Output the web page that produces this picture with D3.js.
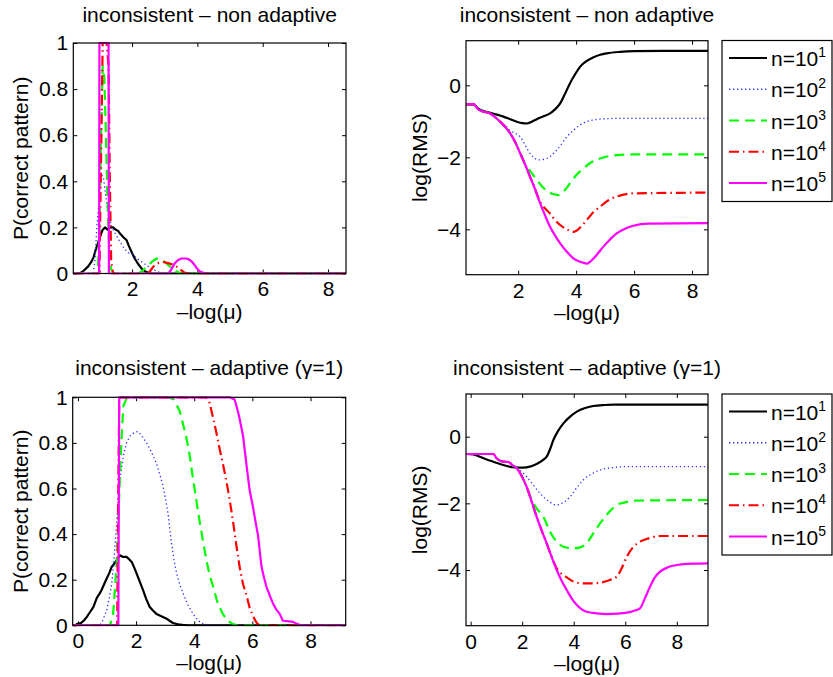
<!DOCTYPE html>
<html>
<head>
<meta charset="utf-8">
<script src="https://cdnjs.cloudflare.com/ajax/libs/d3/7.8.5/d3.min.js"></script>
<style>
  body { margin: 0; background: #fff; }
  svg text { font-family: "Liberation Sans", Arial, Helvetica, sans-serif; fill: #000; }
</style>
</head>
<body>
<svg id="chart" width="833" height="677"></svg>
<script>
// legend / series names
const seriesNames = ["1", "2", "3", "4", "5"];   // exponents for n=10^k

// top-left: inconsistent - non adaptive, P(correct pattern)
const pNonN1 = [[0.2,0],[0.4,0],[0.5,0.01],[0.65,0.03],[0.75,0.05],[0.82,0.07],[0.88,0.1],[0.95,0.13],[1.02,0.16],[1.1,0.19],[1.17,0.2],[1.25,0.19],[1.32,0.2],[1.42,0.2],[1.5,0.19],[1.57,0.185],[1.65,0.17],[1.75,0.155],[1.83,0.145],[1.9,0.12],[1.98,0.095],[2.08,0.065],[2.19,0.04],[2.3,0.02],[2.39,0.01],[2.5,0.003],[2.6,0],[8.55,0]];
const pNonN2 = [[0.2,0],[0.8,0],[0.86,0.05],[0.92,0.2],[0.98,0.3],[1.05,0.43],[1.12,0.42],[1.2,0.33],[1.28,0.25],[1.38,0.2],[1.5,0.17],[1.62,0.14],[1.75,0.11],[1.88,0.09],[2.0,0.085],[2.15,0.065],[2.3,0.05],[2.45,0.035],[2.6,0.02],[2.75,0.01],[2.9,0],[8.55,0]];
const pNonN3 = [[0.2,0],[0.95,0],[1.0,0.2],[1.05,0.6],[1.1,0.9],[1.15,0.85],[1.2,0.6],[1.25,0.3],[1.3,0.1],[1.35,0.02],[1.45,0],[2.2,0],[2.3,0.01],[2.45,0.03],[2.6,0.05],[2.75,0.065],[2.9,0.06],[3.05,0.045],[3.2,0.025],[3.35,0.01],[3.5,0],[8.55,0]];
const pNonN4 = [[0.2,0],[1.0,0],[1.05,0.5],[1.1,1],[1.22,1],[1.28,0.9],[1.32,0.4],[1.36,0.05],[1.42,0],[2.5,0],[2.65,0.03],[2.8,0.045],[2.95,0.05],[3.1,0.045],[3.3,0.037],[3.45,0.02],[3.6,0.004],[3.75,0],[8.55,0]];
const pNonN5 = [[0.2,0],[0.99,0],[1.0,1],[1.28,1],[1.29,0],[3.1,0],[3.16,0.008],[3.31,0.045],[3.42,0.06],[3.52,0.065],[3.62,0.065],[3.72,0.063],[3.8,0.055],[3.87,0.045],[3.97,0.025],[4.08,0.008],[4.25,0],[8.55,0]];

// top-right: inconsistent - non adaptive, log(RMS)
const rNonN1 = [[0.2,-0.53],[0.46,-0.53],[0.6,-0.63],[0.75,-0.7],[1.03,-0.76],[1.25,-0.81],[1.49,-0.87],[1.72,-0.94],[1.95,-1.01],[2.15,-1.05],[2.3,-1.06],[2.47,-1.01],[2.64,-0.94],[2.87,-0.86],[3.1,-0.78],[3.28,-0.66],[3.45,-0.5],[3.62,-0.23],[3.79,0.06],[3.96,0.3],[4.14,0.52],[4.37,0.68],[4.6,0.78],[4.83,0.85],[5.06,0.89],[5.52,0.93],[6.0,0.95],[7.0,0.96],[8.55,0.96]];
const rNonN2 = [[0.2,-0.52],[0.46,-0.52],[0.6,-0.65],[0.75,-0.72],[1.03,-0.78],[1.2,-0.88],[1.38,-1.0],[1.55,-1.12],[1.72,-1.25],[2.07,-1.43],[2.41,-1.89],[2.7,-2.07],[2.99,-2.03],[3.33,-1.8],[3.68,-1.43],[3.9,-1.25],[4.14,-1.1],[4.6,-0.96],[5.29,-0.92],[8.55,-0.92]];
const rNonN3 = [[0.2,-0.52],[0.46,-0.52],[0.6,-0.65],[0.75,-0.72],[1.03,-0.78],[1.2,-0.88],[1.38,-1.01],[1.55,-1.15],[1.72,-1.33],[1.9,-1.58],[2.07,-1.89],[2.25,-2.2],[2.45,-2.42],[2.64,-2.62],[2.82,-2.8],[2.99,-2.93],[3.2,-3.02],[3.39,-3.05],[3.6,-2.92],[3.79,-2.72],[4.0,-2.5],[4.25,-2.31],[4.5,-2.15],[4.83,-2.03],[5.4,-1.94],[6.0,-1.92],[8.55,-1.92]];
const rNonN4 = [[0.2,-0.52],[0.46,-0.52],[0.6,-0.65],[0.75,-0.72],[1.03,-0.78],[1.2,-0.88],[1.38,-1.01],[1.55,-1.15],[1.72,-1.33],[1.9,-1.58],[2.07,-1.89],[2.24,-2.2],[2.41,-2.54],[2.59,-2.9],[2.76,-3.24],[2.93,-3.42],[3.1,-3.56],[3.28,-3.75],[3.45,-3.88],[3.68,-4.0],[3.91,-4.07],[4.14,-3.95],[4.37,-3.74],[4.6,-3.52],[4.83,-3.37],[5.1,-3.2],[5.4,-3.09],[6.0,-3.0],[8.55,-2.98]];
const rNonN5 = [[0.2,-0.52],[0.46,-0.52],[0.6,-0.65],[0.75,-0.72],[1.03,-0.78],[1.2,-0.88],[1.38,-1.01],[1.55,-1.15],[1.72,-1.33],[1.9,-1.58],[2.07,-1.89],[2.24,-2.2],[2.41,-2.54],[2.59,-2.9],[2.76,-3.28],[2.93,-3.62],[3.1,-3.93],[3.28,-4.18],[3.45,-4.39],[3.68,-4.62],[3.91,-4.81],[4.14,-4.9],[4.37,-4.95],[4.6,-4.81],[4.77,-4.65],[4.94,-4.48],[5.17,-4.28],[5.4,-4.11],[5.7,-3.98],[5.97,-3.9],[6.5,-3.84],[8.55,-3.83]];

// bottom-left: inconsistent - adaptive (gamma=1), P(correct pattern)
const pAdaN1 = [[-0.18,0],[-0.1,0],[-0.04,0.005],[0.1,0.01],[0.2,0.02],[0.3,0.036],[0.4,0.055],[0.53,0.08],[0.65,0.12],[0.75,0.14],[0.81,0.154],[0.9,0.18],[0.99,0.205],[1.08,0.23],[1.16,0.256],[1.25,0.27],[1.33,0.285],[1.44,0.307],[1.55,0.3],[1.67,0.3],[1.76,0.29],[1.85,0.278],[1.93,0.255],[2.02,0.227],[2.13,0.19],[2.24,0.154],[2.35,0.115],[2.47,0.08],[2.58,0.065],[2.7,0.05],[2.87,0.04],[3.05,0.029],[3.15,0.02],[3.27,0.01],[3.45,0.004],[3.6,0.002],[3.8,0],[9.21,0]];
const pAdaN2 = [[-0.18,0],[0.76,0],[0.85,0.02],[0.99,0.066],[1.08,0.12],[1.16,0.18],[1.22,0.26],[1.27,0.34],[1.33,0.45],[1.39,0.56],[1.47,0.66],[1.56,0.74],[1.67,0.8],[1.79,0.83],[1.93,0.845],[2.07,0.85],[2.2,0.83],[2.36,0.8],[2.53,0.76],[2.7,0.71],[2.82,0.66],[2.93,0.61],[3.02,0.55],[3.1,0.49],[3.16,0.42],[3.22,0.36],[3.3,0.29],[3.39,0.23],[3.5,0.18],[3.62,0.14],[3.78,0.09],[3.96,0.05],[4.13,0.02],[4.3,0.007],[4.45,0],[9.21,0]];
const pAdaN3 = [[-0.18,0],[1.1,0],[1.21,0.05],[1.27,0.15],[1.33,0.27],[1.39,0.45],[1.44,0.64],[1.5,0.82],[1.56,0.96],[1.67,0.995],[1.8,1],[3.1,1],[3.3,0.99],[3.5,0.94],[3.72,0.83],[3.85,0.74],[3.95,0.65],[4.07,0.55],[4.18,0.46],[4.3,0.37],[4.42,0.285],[4.53,0.22],[4.65,0.17],[4.8,0.1],[4.98,0.05],[5.15,0.02],[5.3,0.007],[5.5,0],[9.21,0]];
const pAdaN4 = [[-0.18,0],[1.35,0],[1.38,0.5],[1.42,1],[4.4,1],[4.5,0.99],[4.65,0.91],[4.77,0.84],[4.88,0.77],[5.0,0.7],[5.11,0.63],[5.22,0.55],[5.34,0.45],[5.45,0.35],[5.57,0.25],[5.68,0.18],[5.8,0.13],[5.9,0.08],[6.02,0.04],[6.16,0.008],[6.25,0],[9.21,0]];
const pAdaN5 = [[-0.18,0],[1.39,0],[1.42,1],[5.22,1],[5.39,0.99],[5.5,0.94],[5.57,0.9],[5.68,0.83],[5.8,0.7],[5.91,0.59],[6.02,0.52],[6.1,0.46],[6.2,0.39],[6.31,0.26],[6.4,0.21],[6.48,0.17],[6.6,0.13],[6.71,0.095],[6.82,0.07],[6.94,0.05],[7.05,0.02],[7.2,0.018],[7.4,0.015],[7.5,0.008],[7.63,0.002],[7.8,0],[9.21,0]];

// bottom-right: inconsistent - adaptive (gamma=1), log(RMS)
const rAdaN1 = [[-0.18,-0.52],[0.1,-0.53],[0.36,-0.6],[0.6,-0.68],[0.88,-0.75],[1.14,-0.82],[1.4,-0.88],[1.7,-0.92],[2.04,-0.93],[2.3,-0.9],[2.56,-0.82],[2.8,-0.7],[2.95,-0.6],[3.08,-0.38],[3.21,-0.1],[3.4,0.18],[3.6,0.4],[3.86,0.6],[4.12,0.75],[4.44,0.86],[4.76,0.92],[5.2,0.95],[5.54,0.96],[9.21,0.96]];
const rAdaN2 = [[-0.18,-0.52],[0.88,-0.52],[1.01,-0.65],[1.14,-0.72],[1.27,-0.75],[1.46,-0.76],[1.62,-0.85],[1.79,-0.95],[1.98,-1.05],[2.17,-1.2],[2.43,-1.45],[2.69,-1.7],[3.0,-1.92],[3.34,-2.05],[3.6,-1.97],[3.86,-1.8],[4.1,-1.55],[4.37,-1.3],[4.7,-1.12],[5.02,-1.0],[5.5,-0.93],[6.06,-0.9],[9.21,-0.9]];
const rAdaN3 = [[-0.18,-0.52],[0.88,-0.52],[1.01,-0.65],[1.14,-0.72],[1.27,-0.75],[1.46,-0.76],[1.62,-0.85],[1.79,-0.95],[1.98,-1.18],[2.17,-1.5],[2.37,-1.9],[2.56,-2.15],[2.82,-2.4],[3.08,-2.85],[3.34,-3.15],[3.6,-3.3],[3.98,-3.35],[4.25,-3.32],[4.5,-3.2],[4.76,-2.9],[5.02,-2.6],[5.35,-2.28],[5.67,-2.05],[6.0,-1.97],[6.31,-1.92],[9.21,-1.9]];
const rAdaN4 = [[-0.18,-0.52],[0.88,-0.52],[1.01,-0.65],[1.14,-0.72],[1.27,-0.75],[1.46,-0.76],[1.62,-0.85],[1.79,-0.95],[1.98,-1.18],[2.17,-1.5],[2.37,-1.95],[2.56,-2.4],[2.75,-2.8],[2.95,-3.2],[3.14,-3.6],[3.34,-3.95],[3.53,-4.12],[3.73,-4.22],[4.0,-4.35],[4.37,-4.4],[4.7,-4.4],[5.02,-4.38],[5.4,-4.3],[5.67,-4.2],[5.86,-3.95],[6.06,-3.6],[6.3,-3.32],[6.57,-3.15],[6.9,-3.05],[7.35,-2.98],[9.21,-2.98]];
const rAdaN5 = [[-0.18,-0.52],[0.88,-0.52],[1.01,-0.65],[1.14,-0.72],[1.27,-0.75],[1.46,-0.76],[1.62,-0.85],[1.79,-0.95],[1.98,-1.18],[2.17,-1.5],[2.37,-1.95],[2.56,-2.4],[2.75,-2.8],[2.95,-3.2],[3.14,-3.6],[3.34,-4.0],[3.53,-4.32],[3.73,-4.6],[3.92,-4.85],[4.12,-5.05],[4.3,-5.17],[4.5,-5.25],[4.9,-5.3],[5.28,-5.32],[5.7,-5.31],[6.06,-5.28],[6.35,-5.22],[6.57,-5.15],[6.76,-4.85],[6.96,-4.5],[7.15,-4.22],[7.35,-4.05],[7.65,-3.92],[8.0,-3.85],[8.6,-3.81],[9.21,-3.8]];

// tick values
const xTicksNon = [2, 4, 6, 8];
const xTicksAda = [0, 2, 4, 6, 8];
const pTicks = [0, 0.2, 0.4, 0.6, 0.8, 1];
const rTicks = [-4, -2, 0];

const styles = [
  {color: "#000000", width: 2.2, dash: null},
  {color: "#2f2fff", width: 1.3, dash: "1.3,2.7"},
  {color: "#00ff00", width: 2.2, dash: "10,6"},
  {color: "#ff0000", width: 2.2, dash: "10,4,1.5,4"},
  {color: "#ff00ff", width: 2.2, dash: null}
];

const svg = d3.select("#chart");
const FS = 21;

function panel(cfg) {
  let x = d3.scaleLinear().domain(cfg.xd).range([cfg.left, cfg.right]);
  let y = d3.scaleLinear().domain(cfg.yd).range([cfg.bottom, cfg.top]);
  let g = svg.append("g");

  let clipId = "clip" + cfg.id;
  svg.append("clipPath").attr("id", clipId)
    .append("rect")
    .attr("x", cfg.left).attr("y", cfg.top - 2)
    .attr("width", cfg.right - cfg.left).attr("height", cfg.bottom - cfg.top + 3);

  // axes with inward ticks
  let ax = g.append("g").attr("transform", "translate(0," + cfg.bottom + ")")
    .call(d3.axisBottom(x).tickValues(cfg.xt).tickSizeInner(-4).tickSizeOuter(0).tickPadding(8).tickFormat(d3.format("d")));
  ax.selectAll("text").style("font-size", FS + "px");
  g.append("g").attr("transform", "translate(0," + cfg.top + ")")
    .call(d3.axisTop(x).tickValues(cfg.xt).tickSizeInner(-4).tickSizeOuter(0).tickFormat(""));
  let ay = g.append("g").attr("transform", "translate(" + cfg.left + ",0)")
    .call(d3.axisLeft(y).tickValues(cfg.yt).tickSizeInner(-4).tickSizeOuter(0).tickPadding(5).tickFormat(cfg.yf));
  ay.selectAll("text").style("font-size", FS + "px");
  g.append("g").attr("transform", "translate(" + cfg.right + ",0)")
    .call(d3.axisRight(y).tickValues(cfg.yt).tickSizeInner(-4).tickSizeOuter(0).tickFormat(""));
  g.selectAll(".domain").remove();
  g.selectAll(".tick line").attr("stroke", "#000");

  // lines
  let line = d3.line()
    .x(d => x(d[0])).y(d => y(d[1]))
    .curve(cfg.smooth ? d3.curveMonotoneX : d3.curveLinear);
  g.append("g").attr("clip-path", "url(#" + clipId + ")")
    .selectAll("path")
    .data(cfg.series)
    .enter()
    .append("path")
    .attr("d", d => line(d))
    .attr("fill", "none")
    .attr("stroke", (d, i) => styles[i].color)
    .attr("stroke-width", (d, i) => styles[i].width)
    .attr("stroke-dasharray", (d, i) => styles[i].dash)
    .attr("stroke-linejoin", "round");

  // box
  g.append("rect")
    .attr("x", cfg.left).attr("y", cfg.top)
    .attr("width", cfg.right - cfg.left).attr("height", cfg.bottom - cfg.top)
    .attr("fill", "none").attr("stroke", "#000").attr("stroke-width", 1.2);

  let cx = (cfg.left + cfg.right) / 2;
  g.append("text").attr("x", cx).attr("y", cfg.titleY)
    .attr("text-anchor", "middle").style("font-size", FS + "px").text(cfg.title);
  g.append("text").attr("x", cx).attr("y", cfg.bottom + 45)
    .attr("text-anchor", "middle").style("font-size", FS + "px").text("\u2013log(\u03bc)");
  g.append("text")
    .attr("transform", "translate(" + cfg.ylabX + "," + ((cfg.top + cfg.bottom) / 2) + ") rotate(-90)")
    .attr("text-anchor", "middle").style("font-size", FS + "px").text(cfg.ylab);

  if (cfg.legendTop !== undefined) legend(cfg.legendTop);
}

function legend(top) {
  let lg = svg.append("g");
  lg.append("rect").attr("x", 722).attr("y", top).attr("width", 110).attr("height", 161)
    .attr("fill", "#fff").attr("stroke", "#000").attr("stroke-width", 1.2);
  let rowY = d3.scaleLinear().domain([0, 4]).range([top + 17.5, top + 142.5]);
  seriesNames.forEach(function(k, i) {
    let yy = rowY(i);
    lg.append("line").attr("x1", 729).attr("x2", 767).attr("y1", yy).attr("y2", yy)
      .attr("stroke", styles[i].color).attr("stroke-width", styles[i].width)
      .attr("stroke-dasharray", styles[i].dash);
    let t = lg.append("text").attr("x", 771).attr("y", yy + 8).style("font-size", FS + "px");
    t.append("tspan").text("n=10");
    t.append("tspan").attr("dy", -9).style("font-size", "14px").text(k);
  });
}

const fmtP = d => d === 0 || d === 1 ? String(d) : d3.format(".1f")(d);
const fmtR = d3.format("d");

panel({id: 1, left: 73.3, right: 346, top: 43, bottom: 273.5, xd: [0.2, 8.55], yd: [0, 1],
  xt: xTicksNon, yt: pTicks, yf: fmtP, smooth: false, titleY: 22, ylabX: 28,
  title: "inconsistent \u2013 non adaptive", ylab: "P(correct pattern)",
  series: [pNonN1, pNonN2, pNonN3, pNonN4, pNonN5]});
panel({id: 2, left: 466, right: 708, top: 40.7, bottom: 274.7, xd: [0.2, 8.55], yd: [-5.26, 1.24],
  xt: xTicksNon, yt: rTicks, yf: fmtR, smooth: true, titleY: 22, ylabX: 427,
  title: "inconsistent \u2013 non adaptive", ylab: "log(RMS)",
  series: [rNonN1, rNonN2, rNonN3, rNonN4, rNonN5], legendTop: 40.5});
panel({id: 3, left: 72.7, right: 345.7, top: 397.3, bottom: 625.3, xd: [-0.18, 9.21], yd: [0, 1],
  xt: xTicksAda, yt: pTicks, yf: fmtP, smooth: false, titleY: 375, ylabX: 28,
  title: "inconsistent \u2013 adaptive (\u03b3=1)", ylab: "P(correct pattern)",
  series: [pAdaN1, pAdaN2, pAdaN3, pAdaN4, pAdaN5]});
panel({id: 4, left: 466, right: 708, top: 394, bottom: 625.7, xd: [-0.18, 9.21], yd: [-5.67, 1.28],
  xt: xTicksAda, yt: rTicks, yf: fmtR, smooth: true, titleY: 375, ylabX: 427,
  title: "inconsistent \u2013 adaptive (\u03b3=1)", ylab: "log(RMS)",
  series: [rAdaN1, rAdaN2, rAdaN3, rAdaN4, rAdaN5], legendTop: 394});
</script>
</body>
</html>
